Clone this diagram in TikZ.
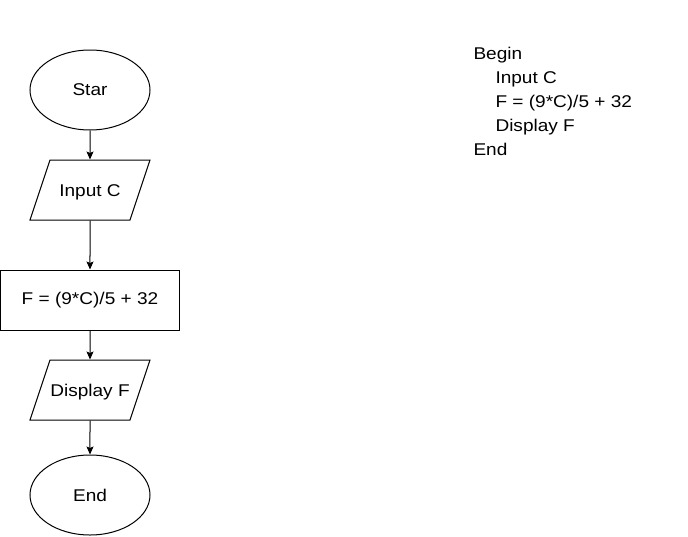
\documentclass[tikz,border=0pt]{standalone}
\usepackage{fontspec}
\setmainfont{Liberation Sans}[FakeStretch=1.12]
\usetikzlibrary{positioning, arrows, arrows.meta, shapes.geometric}

\begin{document}
\begin{tikzpicture}[->,>={Stealth[length=8pt,width=7pt,inset=1.5pt]},x=1pt,y=1pt,
        node distance=30pt,line width=1pt,font=\fontsize{17}{24}\selectfont,
        term/.style={ellipse,draw,minimum width=120pt,minimum height=80pt,inner sep=0pt},
        io/.style={trapezium,draw,trapezium left angle=71.57,trapezium right angle=108.43,
          trapezium stretches body,text height=14pt,text depth=2pt,inner ysep=22pt,
          inner xsep=0pt,minimum width=120pt},
        process/.style={rectangle,draw,minimum width=179pt,minimum height=60pt}]

  \useasboundingbox (0,0) rectangle (688,-536);

  \node[term] (Start) at (90,-90) {Star};
  \node[io] (Input) [below=29pt of Start] {Input C};
  \node[process] (Calc) [below=49pt of Input] {F = (9*C)/5 + 32};
  \node[io] (Display) [below=29pt of Calc] {Display F};
  \node[term] (Stop) at (90,-495) {End};

  \path (Start) edge (Input)
        (Input) edge (Calc)
        (Calc) edge (Display)
        (Display) edge (Stop);

  % pseudo code
  \node[align=left,anchor=north west,inner sep=0pt] (Pseudo) at (473,-47) {%
    Begin\\
    \hspace{22pt}Input C\\
    \hspace{22pt}F = (9*C)/5 + 32\\
    \hspace{22pt}Display F\\
    End};

\end{tikzpicture}
\end{document}
